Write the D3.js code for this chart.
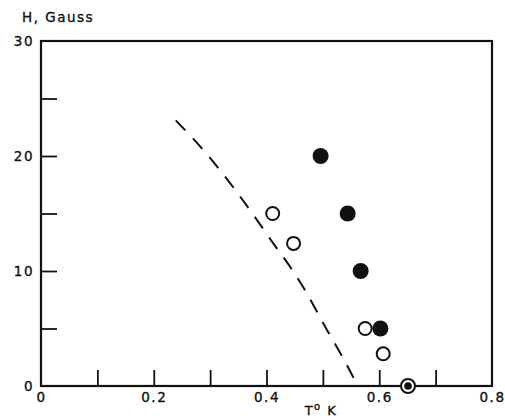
<!DOCTYPE html>
<html>
<head>
<meta charset="utf-8">
<script src="https://cdn.jsdelivr.net/npm/d3@7"></script>
<style>
  body { margin: 0; background: #fff; }
  text { font-family: "DejaVu Sans", sans-serif; fill: #111; stroke: #111; stroke-width: 0.35; }
  .axis path { display: none; }
  .axis line { stroke: #111; stroke-width: 1.8; }
  .axis text { font-size: 13.5px; letter-spacing: 1.5px; }
</style>
</head>
<body>
<svg width="505" height="419"></svg>
<script>
// Data
var openPts = [[0.411, 15], [0.448, 12.4], [0.575, 5], [0.607, 2.8]];
var filledPts = [[0.496, 20], [0.544, 15], [0.567, 10], [0.602, 5]];
var circledPts = [[0.651, 0]];
var dashedLine = [[0.239, 23.1], [0.29, 20.4], [0.336, 17.6], [0.375, 15.0], [0.412, 12.4],
                  [0.44, 10.5], [0.465, 8.6], [0.507, 4.9], [0.535, 2.5], [0.561, 0.1]];
var xTicks = [0.1, 0.2, 0.3, 0.4, 0.5, 0.6, 0.7];
var xLabels = [0, 0.2, 0.4, 0.6, 0.8];
var yTicks = [5, 10, 15, 20, 25];
var yLabels = [0, 10, 20, 30];

var svg = d3.select("svg");

// Plot box
var margin = {top: 41, left: 41, bottom: 33, right: 13};
var x = d3.scaleLinear().domain([0, 0.8]).range([margin.left, 505 - margin.right]);
var y = d3.scaleLinear().domain([0, 30]).range([419 - margin.bottom, margin.top]);

// Inward tick marks
svg.append("g")
    .attr("class", "axis")
    .attr("transform", "translate(0," + y(0) + ")")
    .call(d3.axisBottom(x).tickValues(xTicks).tickSize(-16).tickFormat(""));
svg.append("g")
    .attr("class", "axis")
    .attr("transform", "translate(" + x(0) + ",0)")
    .call(d3.axisLeft(y).tickValues(yTicks).tickSize(-16).tickFormat(""));

// Tick labels
svg.append("g")
    .attr("class", "axis")
    .attr("transform", "translate(0," + y(0) + ")")
    .call(d3.axisBottom(x).tickValues(xLabels).tickSize(0).tickPadding(6)
        .tickFormat(function(d) { return d === 0 ? "0" : d3.format(".1f")(d); }));
svg.append("g")
    .attr("class", "axis")
    .attr("transform", "translate(" + (x(0) - 3) + ",0)")
    .call(d3.axisLeft(y).tickValues(yLabels).tickSize(0).tickPadding(4).tickFormat(d3.format("d")));

// Frame
svg.append("rect")
    .attr("x", x(0)).attr("y", y(30))
    .attr("width", x(0.8) - x(0)).attr("height", y(0) - y(30))
    .attr("fill", "none").attr("stroke", "#111").attr("stroke-width", 2.2);

// Axis titles
svg.append("text")
    .attr("x", 22).attr("y", 22)
    .attr("font-size", 13.5).attr("letter-spacing", 1.5)
    .text("H, Gauss");
var xt = svg.append("text")
    .attr("x", 321).attr("y", 415)
    .attr("text-anchor", "middle")
    .attr("font-size", 13).attr("letter-spacing", 1.5);
xt.append("tspan").text("T");
xt.append("tspan").attr("dy", -5).attr("font-size", 10).text("o");
xt.append("tspan").attr("dy", 5).text(" K");

// Dashed curve
svg.append("path")
    .datum(dashedLine)
    .attr("fill", "none")
    .attr("stroke", "#111")
    .attr("stroke-width", 2)
    .attr("stroke-dasharray", "14,11")
    .attr("d", d3.line()
        .x(function(d) { return x(d[0]); })
        .y(function(d) { return y(d[1]); })
        .curve(d3.curveMonotoneX));

// Open circles
svg.selectAll(".open")
    .data(openPts)
    .enter()
    .append("circle")
    .attr("class", "open")
    .attr("cx", function(d) { return x(d[0]); })
    .attr("cy", function(d) { return y(d[1]); })
    .attr("r", 6.5)
    .attr("fill", "#fff")
    .attr("stroke", "#111")
    .attr("stroke-width", 2);

// Filled circles
svg.selectAll(".filled")
    .data(filledPts)
    .enter()
    .append("circle")
    .attr("class", "filled")
    .attr("cx", function(d) { return x(d[0]); })
    .attr("cy", function(d) { return y(d[1]); })
    .attr("r", 8)
    .attr("fill", "#111");

// Circled dot
var cd = svg.selectAll(".circled")
    .data(circledPts)
    .enter()
    .append("g")
    .attr("class", "circled")
    .attr("transform", function(d) { return "translate(" + [x(d[0]), y(d[1])] + ")"; });
cd.append("circle").attr("r", 7).attr("fill", "#fff").attr("stroke", "#111").attr("stroke-width", 2);
cd.append("circle").attr("r", 3.8).attr("fill", "#111");
</script>
</body>
</html>
